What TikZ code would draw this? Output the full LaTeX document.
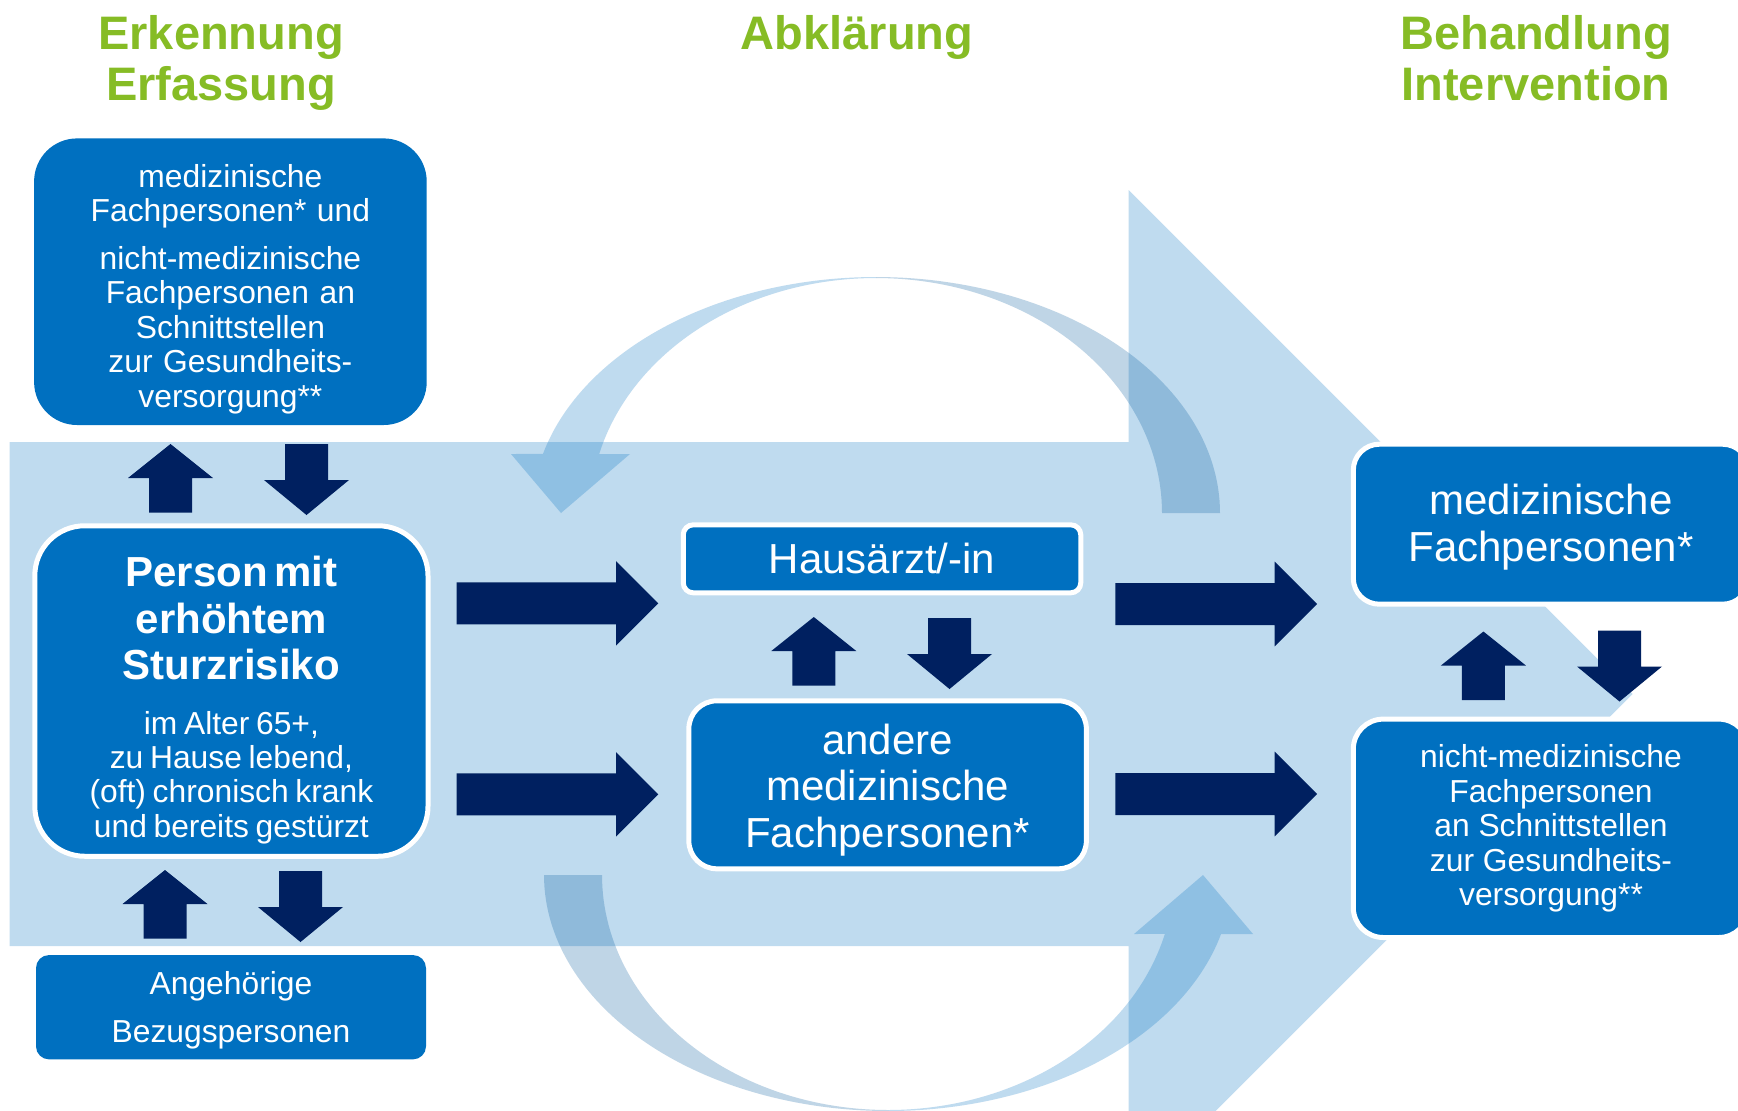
\documentclass[tikz,border=0pt]{standalone}
\usepackage{fontspec}
\setsansfont{Liberation Sans}
\usepackage{tikz}
\definecolor{boxblue}{HTML}{0070C0}
\definecolor{navy}{HTML}{002060}
\definecolor{backblue}{HTML}{005A9E}
\definecolor{titlegreen}{HTML}{86BC25}

\tikzset{
    bluebox/.style={fill=boxblue, text=white, align=center, inner sep=0pt, font=\sffamily},
    whiteframe/.style={draw=white, line width=2.5pt},
    smalltext/.style={font=\sffamily\fontsize{15.9}{17.25}\selectfont},
    largetext/.style={font=\sffamily\fontsize{21}{23.2}\selectfont},
    titletext/.style={font=\sffamily\bfseries\fontsize{23.5}{25.5}\selectfont, text=titlegreen, align=center, inner sep=0pt, anchor=north},
    bigarrow/.style={fill=boxblue, fill opacity=0.25},
    frontarc/.style={fill=boxblue, fill opacity=0.25},
    backarc/.style={fill=backblue, fill opacity=0.25},
    uparr/.pic={\fill[navy] (0,0) -- (42.5,34) -- (21.5,34) -- (21.5,68.5) -- (-21.5,68.5) -- (-21.5,34) -- (-42.5,34) -- cycle;},
    downarr/.pic={\fill[navy] (0,0) -- (42.5,-35) -- (21.5,-35) -- (21.5,-71) -- (-21.5,-71) -- (-21.5,-35) -- (-42.5,-35) -- cycle;},
    rightarr/.pic={\fill[navy] (0,0) -- (-42.3,42.3) -- (-42.3,21) -- (-201.6,21) -- (-201.6,-21) -- (-42.3,-21) -- (-42.3,-42.3) -- cycle;}
}

% curved arrow over the middle column (front part with head, back part with tail)
\newcommand{\curvedarc}{%
    \fill[frontarc] (511,454) -- plot[domain=165.5:90, samples=60] ({876+344*cos(\x)},{513-236*sin(\x)})
        -- plot[domain=90:165.5, samples=60] ({876+286*cos(\x)},{513-235*sin(\x)})
        -- (630,454) -- (561,513) -- cycle;
    \fill[backarc] plot[domain=90:0, samples=60] ({876+344*cos(\x)},{513-236*sin(\x)})
        -- plot[domain=0:90, samples=60] ({876+286*cos(\x)},{513-235*sin(\x)}) -- cycle;
}

\begin{document}
\begin{tikzpicture}[x=0.5pt, y=-0.5pt]
    \useasboundingbox (0,0) rectangle (1738,1110);
    \clip (0,0) rectangle (1738,1110);
    \fill[white] (0,0) rectangle (1738,1110);

    % Background arrow
    \fill[bigarrow] (9.6,442) -- (1128.6,442) -- (1128.6,190) -- (1632.6,694)
        -- (1128.6,1198) -- (1128.6,946) -- (9.6,946) -- cycle;

    % Curved arrows
    \curvedarc
    \begin{scope}[rotate around={180:(882,694)}]
        \curvedarc
    \end{scope}

    % Headings
    \node[titletext] (erkennung) at (221,15) {Erkennung\\Erfassung};
    \node[titletext] (abklaerung) at (857,15) {Abklärung};
    \node[titletext] (behandlung) at (1536,15) {Behandlung\\Intervention};

    % Left column
    \node[bluebox, smalltext, rounded corners=21.5pt, minimum width=196.3pt, minimum height=143.3pt, text width=190pt] (fachleute) at (230.4,281.7) {
        \rule{0pt}{18.6pt}medizinische\\Fachpersonen* und\\[6.5pt]nicht-medizinische\\Fachpersonen an\\Schnittstellen\\zur Gesundheits-\\versorgung**
    };
    \node[bluebox, whiteframe, rounded corners=25pt, minimum width=196.6pt, minimum height=165.25pt, text width=190pt] (person) at (231.4,691) {
        {\fontsize{21}{23.15}\selectfont\bfseries\rule{0pt}{24.3pt}Person mit\\erhöhtem\\Sturzrisiko\par}
        \vspace{10.15pt}{\fontsize{15.9}{17.15}\selectfont im Alter 65+,\\zu Hause lebend,\\(oft) chronisch krank\\und bereits gestürzt\par}
    };
    \node[bluebox, font=\sffamily\fontsize{15.9}{24}\selectfont, rounded corners=6.5pt, minimum width=195pt, minimum height=52.15pt] (angehoerige) at (231,1007.2) {
        \rule{0pt}{14.5pt}Angehörige\\Bezugspersonen
    };

    % Middle column
    \node[bluebox, whiteframe, largetext, rounded corners=5pt, minimum width=198.75pt, minimum height=34pt] (hausarzt) at (882,558.8) {Hausärzt/-in};
    \node[bluebox, whiteframe, largetext, rounded corners=14pt, minimum width=198.75pt, minimum height=84pt] (andere) at (887.6,784.8) {
        \rule{0pt}{20.3pt}andere\\medizinische\\Fachpersonen*
    };

    % Right column
    \node[bluebox, whiteframe, largetext, rounded corners=13pt, minimum width=197.7pt, minimum height=80pt] (medfach) at (1551,524.2) {
        \rule{0pt}{18.3pt}medizinische\\Fachpersonen*
    };
    \node[bluebox, whiteframe, smalltext, rounded corners=15pt, minimum width=197.7pt, minimum height=109.2pt] (nichtmed) at (1551,828.3) {
        nicht-medizinische\\Fachpersonen\\an Schnittstellen\\zur Gesundheits-\\versorgung**
    };

    % Block arrows
    \pic at (170.5,444) {uparr};
    \pic at (306.5,515) {downarr};
    \pic at (165,870) {uparr};
    \pic at (300.5,942) {downarr};
    \pic at (813.8,617) {uparr};
    \pic at (949.5,689) {downarr};
    \pic at (1483.4,631.5) {uparr};
    \pic at (1619.5,701.5) {downarr};
    \pic at (658.3,603.3) {rightarr};
    \pic at (658.3,794.3) {rightarr};
    \pic at (1317,604) {rightarr};
    \pic at (1317,794) {rightarr};
\end{tikzpicture}
\end{document}
